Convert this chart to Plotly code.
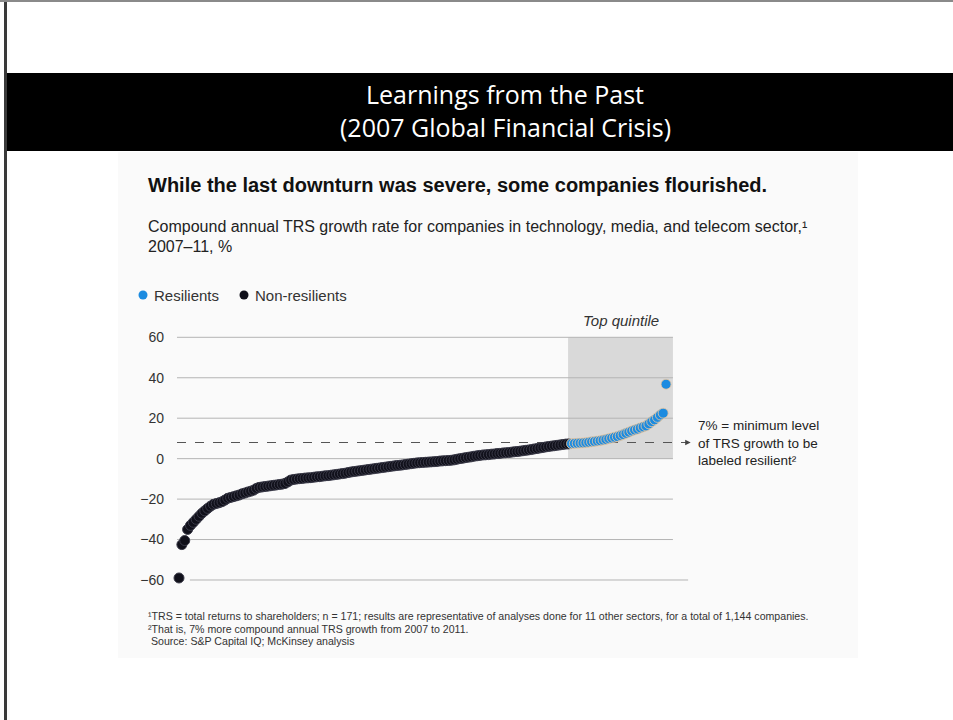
import plotly.graph_objects as go

# ---- data ----
trs_growth = [
    -59.0, -42.5, -40.5, -35.0, -33.0, -31.5, -30.0, -28.5, -27.0, -25.8,
    -24.6, -23.5, -22.6, -22.2, -21.8, -21.3, -20.5, -19.6, -19.2, -18.8,
    -18.4, -18.0, -17.4, -17.0, -16.5, -16.1, -15.6, -14.7, -14.2, -14.0,
    -13.8, -13.6, -13.4, -13.2, -13.0, -12.8, -12.6, -12.3, -11.5, -10.6,
    -10.3, -10.1, -9.9, -9.8, -9.6, -9.5, -9.4, -9.2, -9.0, -8.9,
    -8.7, -8.5, -8.4, -8.2, -8.0, -7.8, -7.6, -7.4, -7.2, -6.9,
    -6.6, -6.4, -6.2, -6.0, -5.8, -5.6, -5.4, -5.2, -5.0, -4.8,
    -4.6, -4.4, -4.2, -4.0, -3.8, -3.6, -3.4, -3.3, -3.1, -2.9,
    -2.7, -2.5, -2.3, -2.1, -2.0, -1.9, -1.8, -1.7, -1.6, -1.5,
    -1.4, -1.2, -1.1, -1.0, -0.9, -0.8, -0.6, -0.3, 0.0, 0.2,
    0.5, 0.7, 0.9, 1.2, 1.4, 1.6, 1.8, 1.9, 2.0, 2.2,
    2.3, 2.5, 2.6, 2.8, 2.9, 3.0, 3.2, 3.4, 3.5, 3.7,
    3.9, 4.1, 4.3, 4.5, 4.8, 5.0, 5.3, 5.5, 5.8, 6.0,
    6.2, 6.4, 6.6, 6.8, 7.0, 7.2, 7.3,
    # resilients (top quintile)
    7.4, 7.5, 7.6, 7.7, 7.8, 7.9, 8.1, 8.3, 8.5, 8.7,
    8.9, 9.2, 9.5, 9.9, 10.2, 10.6, 10.9, 11.4, 11.9, 12.5,
    13.1, 13.7, 14.2, 14.6, 15.2, 15.7, 16.2, 17.2, 18.3, 19.2,
    20.4, 21.6, 22.5, 36.8,
]
n_resilient = 34
y_ticks = [60, 40, 20, 0, -20, -40, -60]
resilient_threshold = 8
top_quintile_start = 135.8

n = len(trs_growth)
ranks = list(range(n))
split = n - n_resilient
non_x, non_y = ranks[:split], trs_growth[:split]
res_x, res_y = ranks[split:], trs_growth[split:]

W, H = 953, 720
def fx(p):
    return p / W
def fy(p):
    return 1 - p / H

FONT = "Liberation Sans, Arial, sans-serif"
BLUE = "#1c8be0"
DARK = "#10101a"

fig = go.Figure()
fig.add_trace(go.Scatter(
    x=non_x, y=non_y, mode="markers", showlegend=False, cliponaxis=False,
    marker=dict(size=10, color=DARK, line=dict(width=1, color="#3a3a48")),
    hoverinfo="skip"))
fig.add_trace(go.Scatter(
    x=res_x, y=res_y, mode="markers", showlegend=False, cliponaxis=False,
    marker=dict(size=10, color=BLUE, line=dict(width=0.8, color="#f0c9a0")),
    hoverinfo="skip"))

shapes = []
# page frame / decorations
shapes.append(dict(type="rect", xref="paper", yref="paper",
                   x0=fx(118), x1=fx(858), y0=fy(658), y1=fy(152),
                   fillcolor="#fafafa", line=dict(width=0), layer="below"))
shapes.append(dict(type="rect", xref="paper", yref="paper",
                   x0=fx(4), x1=1, y0=fy(151), y1=fy(73),
                   fillcolor="black", line=dict(width=0), layer="below"))
shapes.append(dict(type="line", xref="paper", yref="paper",
                   x0=fx(5.5), x1=fx(5.5), y0=0, y1=1,
                   line=dict(color="#3a3a3a", width=3)))
shapes.append(dict(type="line", xref="paper", yref="paper",
                   x0=0, x1=1, y0=fy(1), y1=fy(1),
                   line=dict(color="#8a8a8a", width=2)))
# top quintile box
shapes.append(dict(type="rect", xref="x", yref="y",
                   x0=top_quintile_start, x1=172.4, y0=0, y1=60,
                   fillcolor="#d9d9d9", line=dict(width=0), layer="below"))
# gridlines
for t in y_ticks:
    if t == -60:
        x0, x1 = 3.8, 177.7
    else:
        x0, x1 = -0.7, 172.4
    shapes.append(dict(type="line", xref="x", yref="y", x0=x0, x1=x1,
                       y0=t, y1=t, line=dict(color="#b4b4b4", width=1),
                       layer="below"))
# threshold dashed line
shapes.append(dict(type="line", xref="x", yref="y", x0=-0.7, x1=176.8,
                   y0=resilient_threshold, y1=resilient_threshold,
                   line=dict(color="#555555", width=1.1, dash="dash"),
                   layer="below"))
# legend dots
for cx, col in [(143, BLUE), (244, DARK)]:
    shapes.append(dict(type="circle", xref="paper", yref="paper",
                       x0=fx(cx - 4.5), x1=fx(cx + 4.5),
                       y0=fy(295 + 4.5), y1=fy(295 - 4.5),
                       fillcolor=col, line=dict(width=0)))

annotations = []
def txt(text, x, y, size, color="#1a1a1a", xanchor="left", family=FONT,
        bold=False, italic=False):
    t = text
    if bold:
        t = "<b>" + t + "</b>"
    if italic:
        t = "<i>" + t + "</i>"
    annotations.append(dict(text=t, x=fx(x), y=fy(y), xref="paper",
                            yref="paper", xanchor=xanchor, yanchor="middle",
                            showarrow=False, align="left",
                            font=dict(size=size, color=color, family=family)))

TITLE_FONT = "Open Sans, sans-serif"
txt("Learnings from the Past", 505, 94, 25, color="white",
    xanchor="center", family=TITLE_FONT)
txt("(2007 Global Financial Crisis)", 505, 127, 25, color="white",
    xanchor="center", family=TITLE_FONT)
txt("While the last downturn was severe, some companies flourished.",
    146, 185, 20, color="#111111", bold=True)
txt("Compound annual TRS growth rate for companies in technology, media, "
    "and telecom sector,\u00b9", 146, 226, 16, color="#222222")
txt("2007\u201311, %", 146, 246, 16, color="#222222")
txt("Resilients", 152, 295, 15, color="#333333")
txt("Non-resilients", 253, 295, 15, color="#333333")
txt("Top quintile", 621, 320, 15, color="#333333", xanchor="center",
    italic=True)
txt("7% = minimum level<br>of TRS growth to be<br>labeled resilient\u00b2",
    696, 443, 13.5, color="#222222")
txt("\u00b9TRS = total returns to shareholders; n = 171; results are "
    "representative of analyses done for 11 other sectors, for a total of "
    "1,144 companies.", 146, 616, 10.6, color="#333333")
txt("\u00b2That is, 7% more compound annual TRS growth from 2007 to 2011.",
    146, 629, 10.6, color="#333333")
txt(" Source: S&P Capital IQ; McKinsey analysis", 146, 641, 10.6,
    color="#333333")

# arrow head for the threshold line
annotations.append(dict(x=178.6, y=resilient_threshold, xref="x", yref="y",
                        ax=-7, ay=0, showarrow=True, text="",
                        arrowhead=2, arrowsize=1, arrowwidth=1.1,
                        arrowcolor="#444444"))

fig.update_layout(
    width=W, height=H,
    margin=dict(l=0, r=0, t=0, b=0),
    paper_bgcolor="white", plot_bgcolor="rgba(0,0,0,0)",
    shapes=shapes, annotations=annotations,
    xaxis=dict(domain=[fx(170), fx(700)], range=[-3.141, 181.85],
               visible=False, fixedrange=True),
    yaxis=dict(domain=[fy(590.1), fy(327.2)], range=[-65, 65],
               tickvals=y_ticks,
               ticktext=[str(v).replace("-", "\u2212") for v in y_ticks],
               showgrid=False, zeroline=False, showline=False, ticks="",
               ticklabelstandoff=5,
               tickfont=dict(size=14, color="#333333", family=FONT),
               fixedrange=True),
    showlegend=False,
)

fig.write_html("out.html")
